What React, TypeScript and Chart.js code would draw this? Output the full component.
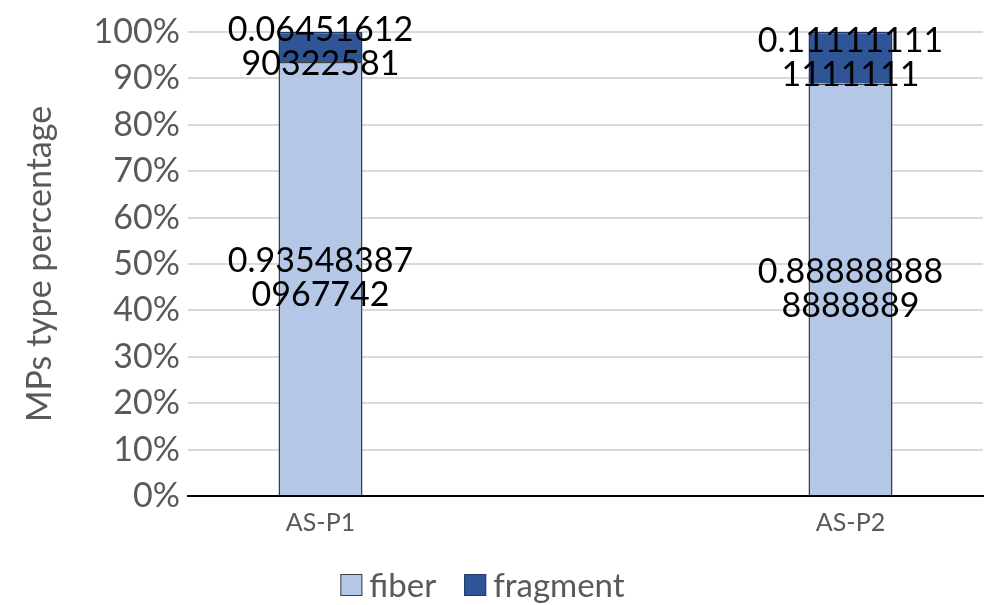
import React, { useEffect, useRef } from "react";
import { Chart, registerables } from "chart.js";

Chart.register(...registerables);

const categories = ["AS-P1", "", "AS-P2"];
const seriesNames = ["fiber", "fragment"];
const fiberValues = [0.935483870967742, 0, 0.888888888888889];
const fragmentValues = [0.0645161290322581, 0, 0.111111111111111];
const yTicks = [0, 0.1, 0.2, 0.3, 0.4, 0.5, 0.6, 0.7, 0.8, 0.9, 1.0];

const FONT = "Lato, 'Open Sans', sans-serif";
const FILLS = ["#b4c7e7", "#2f5597"];
const BORDERS = ["#3f3f3f", "#1f3864"];

const labelPlugin = {
  id: "barLabels",
  afterDatasetsDraw(chart: any) {
    const ctx = chart.ctx;
    ctx.save();
    ctx.font = `34px ${FONT}`;
    ctx.fillStyle = "#000000";
    ctx.textAlign = "center";
    ctx.textBaseline = "middle";
    chart.data.datasets.forEach((ds: any, di: number) => {
      const meta = chart.getDatasetMeta(di);
      meta.data.forEach((el: any, i: number) => {
        const v = ds.data[i];
        if (!v) return;
        const s = String(v);
        const lines: string[] = [];
        for (let k = 0; k < s.length; k += 10) lines.push(s.slice(k, k + 10));
        const cy = (el.y + el.base) / 2;
        const lh = 34;
        const start = cy - ((lines.length - 1) * lh) / 2;
        lines.forEach((ln, li) => ctx.fillText(ln, el.x, start + li * lh));
      });
    });
    ctx.restore();
  },
};

const legendPlugin = {
  id: "customLegend",
  afterDraw(chart: any) {
    const ctx = chart.ctx;
    ctx.save();
    ctx.font = `33px ${FONT}`;
    ctx.textBaseline = "middle";
    ctx.textAlign = "left";
    const box = 22;
    const gap = 7;
    const itemGap = 28;
    const widths = seriesNames.map((n) => box + gap + ctx.measureText(n).width);
    const total = widths.reduce((a, b) => a + b, 0) + itemGap * (widths.length - 1);
    let x = chart.width / 2 - 12 - total / 2;
    const cy = chart.height - 20;
    seriesNames.forEach((n, i) => {
      ctx.fillStyle = FILLS[i];
      ctx.fillRect(x, cy - box / 2, box, box);
      ctx.strokeStyle = BORDERS[i];
      ctx.lineWidth = 1;
      ctx.strokeRect(x + 0.5, cy - box / 2 + 0.5, box - 1, box - 1);
      ctx.fillStyle = "#595959";
      ctx.fillText(n, x + box + gap, cy + 1);
      x += widths[i] + itemGap;
    });
    ctx.restore();
  },
};

export default function App() {
  const ref = useRef<HTMLCanvasElement>(null);
  useEffect(() => {
    if (!ref.current) return;
    const chart = new Chart(ref.current, {
      type: "bar",
      data: {
        labels: categories,
        datasets: [
          {
            label: seriesNames[0],
            data: fiberValues,
            backgroundColor: FILLS[0],
            borderColor: BORDERS[0],
            borderWidth: 1.5,
            categoryPercentage: 1,
            barPercentage: 0.317,
          },
          {
            label: seriesNames[1],
            data: fragmentValues,
            backgroundColor: FILLS[1],
            borderColor: BORDERS[1],
            borderWidth: 1.5,
            categoryPercentage: 1,
            barPercentage: 0.317,
          },
        ],
      },
      options: {
        animation: false,
        responsive: false,
        maintainAspectRatio: false,
        layout: { padding: { top: 32, right: 6, left: 20, bottom: 59 } },
        plugins: {
          tooltip: { enabled: false },
          legend: { display: false },
        },
        scales: {
          x: {
            stacked: true,
            afterFit: (scale: any) => {
              scale.height = 50;
              scale.paddingLeft = 0;
              scale.paddingRight = 0;
            },
            grid: { display: false, drawTicks: false },
            border: { display: true, color: "#000000", width: 2 },
            ticks: {
              color: "#595959",
              font: { family: FONT, size: 25 },
              padding: 12,
            },
          },
          y: {
            stacked: true,
            min: 0,
            max: 1,
            afterBuildTicks: (scale: any) => {
              scale.ticks = yTicks.map((v) => ({ value: v }));
            },
            afterFit: (scale: any) => {
              scale.width = 168;
              scale.paddingTop = 0;
              scale.paddingBottom = 0;
            },
            grid: { color: "#d9d9d9", lineWidth: 2, drawTicks: false },
            border: { display: false },
            ticks: {
              color: "#595959",
              font: { family: FONT, size: 34 },
              padding: 8,
              callback: (v: any) => Math.round(Number(v) * 100) + "%",
            },
            title: {
              display: true,
              text: "MPs type percentage",
              color: "#595959",
              font: { family: FONT, size: 34 },
              padding: { top: 0, bottom: 0 },
            },
          },
        },
      },
      plugins: [labelPlugin, legendPlugin],
    });
    return () => chart.destroy();
  }, []);
  return (
    <div style={{ position: "fixed", left: 0, top: 0, width: 989, height: 605, background: "#fff" }}>
      <canvas ref={ref} width={989} height={605} />
    </div>
  );
}
